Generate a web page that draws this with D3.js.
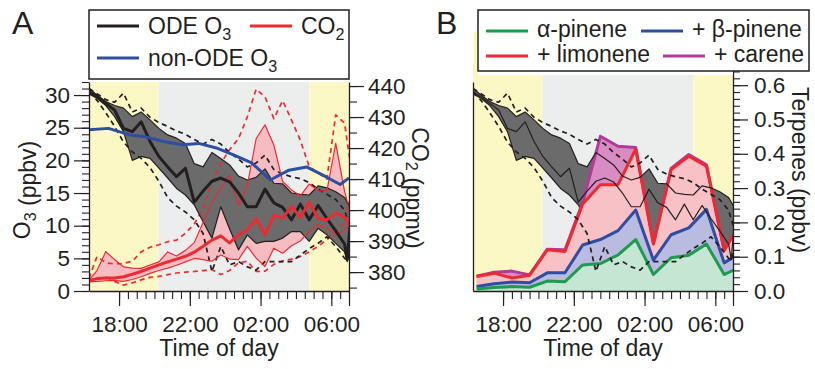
<!DOCTYPE html>
<html>
<head>
<meta charset="utf-8">
<script src="https://cdn.jsdelivr.net/npm/d3@7"></script>
<style>
body { margin: 0; background: white; }
svg text { font-family: "Liberation Sans", Arial, Helvetica, sans-serif; fill: #231f20; }
</style>
</head>
<body>
<div id="container"></div>
<script>
// ---- data (hours since midnight of first day; 24+ = next morning) ----
let o3Time = [16.3,16.75,17.25,17.75,18.25,18.75,19.25,19.75,20.25,20.75,21.25,21.75,22.25,22.75,23.25,23.75,24.25,24.75,25.25,25.75,26.25,26.75,27.25,27.75,28.25,28.75,29.25,29.75,30.25,30.75,30.9,31.15];
let o3Mean = [30.5,29.7,28.7,27.7,24.9,24.4,25.9,22.9,20.6,19.0,17.5,18.8,13.6,15.3,16.8,17.3,16.7,15.0,12.9,12.9,15.6,13.5,12.8,10.9,13.3,10.9,13.1,11.1,9.2,7.2,4.8,13.0];
let o3Upper = [31.0,30.0,29.0,28.4,28.0,26.7,27.4,26.2,24.9,23.9,23.4,22.6,19.5,19.0,21.2,20.3,19.3,17.6,17.0,17.4,18.7,16.5,16.4,15.0,14.8,14.7,16.1,15.8,15.2,14.3,13.6,12.5];
let o3Lower = [30.2,29.5,28.4,26.7,24.4,20.0,20.6,20.3,18.8,17.3,15.7,14.7,13.2,10.6,8.1,12.9,9.5,6.3,8.6,7.3,7.6,7.6,8.1,9.1,9.1,7.6,9.6,8.6,7.3,6.0,4.5,7.0];
let o3Max = [31.0,30.2,29.3,28.9,30.3,27.4,28.0,26.6,25.8,25.2,24.5,24.0,23.2,22.5,23.2,22.5,21.2,20.2,19.0,19.6,20.8,18.6,17.9,17.5,17.2,16.6,15.6,14.8,14.0,12.4,11.0,9.0];
let o3Min = [30.4,29.2,27.3,25.2,22.8,21.3,20.3,18.9,16.8,14.3,13.0,12.1,10.9,8.8,3.0,6.8,4.0,4.5,3.7,3.2,4.5,4.5,4.5,4.5,5.5,6.5,7.3,8.3,6.8,5.0,4.7,7.0];

let co2Mean = [377.3,377.9,378.1,378.1,378.5,379.3,380.2,381.3,382.3,383.3,384.2,385.1,386.4,388.3,390.3,391.7,389.4,392.0,393.6,397.2,392.0,398.4,397.4,401.2,397.6,402.5,397.3,396.9,399.0,397.8,396.5,394.0];
let co2Upper = [377.5,380.5,386.6,384.0,381.7,381.3,381.2,382.3,383.3,386.5,385.2,387.0,389.5,396.0,402.5,407.0,411.3,401.5,408.0,423.0,427.5,421.0,409.2,406.5,404.6,408.4,406.2,406.2,421.5,406.0,402.8,401.0];
let co2Lower = [376.8,377.0,377.2,377.3,377.0,377.6,378.5,379.6,380.5,381.3,382.2,383.3,384.4,384.0,383.5,385.5,384.2,384.0,388.3,384.5,381.8,387.7,386.1,388.5,390.0,393.1,395.3,394.2,392.0,393.5,394.7,394.5];
let co2Max = [378.0,385.0,383.0,382.6,382.8,383.5,386.5,388.0,388.8,389.8,390.3,392.5,395.5,400.5,409.0,415.0,419.5,423.0,430.0,439.0,436.5,429.5,435.3,429.0,422.5,414.0,412.0,410.0,430.7,428.0,422.0,412.0];
let co2Min = [377.0,377.5,378.5,377.0,375.8,376.5,377.5,378.3,378.6,379.2,379.7,380.0,380.2,380.5,380.8,379.2,380.5,383.0,383.5,380.2,380.3,382.5,383.6,384.2,385.0,386.5,388.3,390.5,393.0,396.0,400.0,405.0];

let nonOdeTime = [16.3,17.4,18.6,19.5,20.5,21.6,22.5,23.5,24.5,25.5,26.55,27.6,28.6,29.55,30.5,31.0];
let nonOdeO3 = [24.7,24.9,23.9,23.6,22.9,22.4,22.6,21.9,20.8,19.6,17.0,18.5,19.0,17.7,16.3,17.3];

let terpTime = [16.5,17.5,18.5,19.5,20.5,21.5,22.5,23.5,24.5,25.5,26.5,27.5,28.5,29.5,30.5,31.5];
let alphaPinene = [0.006,0.010,0.013,0.011,0.029,0.027,0.076,0.080,0.105,0.150,0.048,0.097,0.104,0.137,0.048,0.072];
let betaPinene = [0.007,0.011,0.013,0.013,0.024,0.026,0.058,0.070,0.071,0.086,0.042,0.067,0.080,0.101,0.034,0.042];
let limonene = [0.029,0.031,0.012,0.022,0.067,0.062,0.120,0.160,0.134,0.178,0.047,0.190,0.209,0.126,0.036,0.090];
let carene = [0.001,0.003,0.020,0.001,0.002,0.005,0.004,0.141,0.112,0.004,0.002,0.003,0.005,0.004,0.002,0.002];

let sunset = 20.25;
let sunrise = 28.75;
let timeTicks = [18, 22, 26, 30];
let timeLabels = ["18:00", "22:00", "02:00", "06:00"];
let o3Ticks = [0, 5, 10, 15, 20, 25, 30];
let co2Ticks = [380, 390, 400, 410, 420, 430, 440];
let terpTicks = [0, 0.1, 0.2, 0.3, 0.4, 0.5, 0.6];

// ---- setup ----
let w = 815;
let h = 369;

let viz = d3.select("#container")
  .append("svg")
    .attr("width", w)
    .attr("height", h)
    .style("background-color", "white")
;

let yellow = "#fbf8c6";
let night = "#eceeee";
let bandGray = "#6b6b6b";
let ink = "#231f20";
let red = "#ec2a31";
let blue = "#2d4ea2";
let green = "#1c9c4c";
let magenta = "#b23a9b";

let xA = d3.scaleLinear().domain([16.3, 31.0]).range([89, 349]);
let xB = d3.scaleLinear().domain([16.3, 31.0]).range([473, 733]);
let yO3 = d3.scaleLinear().domain([0, 32]).range([291, 82]);
let yCO2 = d3.scaleLinear().domain([373.9, 441.3]).range([291, 82]);
let yTerp = d3.scaleLinear().domain([0, 0.755]).range([291, 32]);

function linePath(x, y, times, vals){
  return d3.line().x((d,i) => x(times[i])).y(d => y(d))(vals);
}
function bandPath(x, y, times, lo, hi){
  return d3.area().x((d,i) => x(times[i])).y0((d,i) => y(lo[i])).y1((d,i) => y(hi[i]))(lo);
}
function addLine(g, d, color, width, dash){
  let p = g.append("path").attr("d", d).attr("fill", "none")
    .attr("stroke", color).attr("stroke-width", width)
    .attr("stroke-linejoin", "round");
  if (dash) p.attr("stroke-dasharray", dash);
  return p;
}

viz.append("clipPath").attr("id", "clipA")
  .append("rect").attr("x", 89).attr("y", 82).attr("width", 260).attr("height", 209);
viz.append("clipPath").attr("id", "clipB")
  .append("rect").attr("x", 473).attr("y", 32).attr("width", 260).attr("height", 259);

function shading(g, x, top){
  let periods = [[x.domain()[0], sunset, yellow], [sunset, sunrise, night], [sunrise, x.domain()[1], yellow]];
  g.selectAll(".bg").data(periods).enter()
    .append("rect")
      .attr("x", d => x(d[0]))
      .attr("width", d => x(d[1]) - x(d[0]))
      .attr("y", top)
      .attr("height", 291 - top)
      .attr("fill", d => d[2]);
}

// ---- panel A ----
let plotA = viz.append("g").attr("clip-path", "url(#clipA)");
shading(plotA, xA, 82);
plotA.append("path").attr("d", bandPath(xA, yCO2, o3Time, co2Lower, co2Upper)).attr("fill", "#f7bcc1");
plotA.append("path").attr("d", bandPath(xA, yO3, o3Time, o3Lower, o3Upper)).attr("fill", bandGray);
addLine(plotA, linePath(xA, yCO2, o3Time, co2Max), red, 1.7, "5,4");
addLine(plotA, linePath(xA, yCO2, o3Time, co2Min), red, 1.7, "5,4");
addLine(plotA, linePath(xA, yO3, o3Time, o3Max), ink, 1.7, "5,4");
addLine(plotA, linePath(xA, yO3, o3Time, o3Min), ink, 1.7, "5,4");
addLine(plotA, linePath(xA, yO3, o3Time, o3Upper), ink, 1.2);
addLine(plotA, linePath(xA, yO3, o3Time, o3Lower), ink, 1.2);
addLine(plotA, linePath(xA, yCO2, o3Time, co2Upper), red, 1.2);
addLine(plotA, linePath(xA, yCO2, o3Time, co2Lower), red, 1.2);
addLine(plotA, linePath(xA, yO3, o3Time, o3Mean), ink, 3);
addLine(plotA, linePath(xA, yCO2, o3Time, co2Mean), red, 3);
addLine(plotA, linePath(xA, yO3, nonOdeTime, nonOdeO3), blue, 3);

// ---- panel B ----
let plotB = viz.append("g").attr("clip-path", "url(#clipB)");
shading(plotB, xB, 32);
plotB.append("path").attr("d", bandPath(xB, yO3, o3Time, o3Lower, o3Upper)).attr("fill", bandGray);
addLine(plotB, linePath(xB, yO3, o3Time, o3Lower), ink, 1.2);

let terpRows = terpTime.map((t, i) => ({
  t: t, alpha: alphaPinene[i], beta: betaPinene[i], limonene: limonene[i], carene: carene[i]
}));
let terpKeys = ["alpha", "beta", "limonene", "carene"];
let terpFill = {alpha: "#c5e6d3", beta: "#babbe1", limonene: "#f8c1c5", carene: "#d98cc2"};
let terpLine = {alpha: green, beta: blue, limonene: red, carene: magenta};
let stacked = d3.stack().keys(terpKeys)(terpRows);

let terpArea = d3.area()
  .x(d => xB(d.data.t))
  .y0(d => yTerp(d[0]))
  .y1(d => yTerp(d[1]));
let terpTop = d3.line()
  .x(d => xB(d.data.t))
  .y(d => yTerp(d[1]));

plotB.selectAll(".terpArea").data(stacked).enter()
  .append("path")
    .attr("d", terpArea)
    .attr("fill", d => terpFill[d.key]);

// carene line first so limonene sits on top of it
let lineOrder = stacked.slice().reverse();
plotB.selectAll(".terpLine").data(lineOrder).enter()
  .append("path")
    .attr("d", terpTop)
    .attr("fill", "none")
    .attr("stroke", d => terpLine[d.key])
    .attr("stroke-width", 3)
    .attr("stroke-linejoin", "round");

addLine(plotB, linePath(xB, yO3, o3Time, o3Max), ink, 1.7, "5,4");
addLine(plotB, linePath(xB, yO3, o3Time, o3Min), ink, 1.7, "5,4");
addLine(plotB, linePath(xB, yO3, o3Time, o3Upper), ink, 1.2);
addLine(plotB, linePath(xB, yO3, o3Time, o3Mean), ink, 1.2);

// ---- axes ----
function styleAxis(g, fontSize){
  g.selectAll("path.domain").attr("stroke", ink).attr("stroke-width", 1.3);
  g.selectAll("line").attr("stroke", ink).attr("stroke-width", 1.2);
  g.selectAll("text").style("font-size", fontSize + "px").attr("fill", ink)
    .style("font-family", '"Liberation Sans", Arial, sans-serif');
}
function minorAxis(g, axis){
  g.call(axis);
  g.select(".domain").remove();
  g.selectAll("line").attr("stroke", ink).attr("stroke-width", 1.1);
}

function timeAxis(x){
  let minor = viz.append("g").attr("transform", "translate(0,291)");
  minorAxis(minor, d3.axisBottom(x).tickValues(d3.range(18, 31.01, 0.5)).tickSize(8).tickFormat(""));
  let major = viz.append("g").attr("transform", "translate(0,291)")
    .call(d3.axisBottom(x).tickValues(timeTicks.concat([31])).tickSize(15).tickSizeOuter(0).tickPadding(10)
      .tickFormat(d => { let k = timeTicks.indexOf(d); return k >= 0 ? timeLabels[k] : ""; }));
  styleAxis(major, 22.5);
}
timeAxis(xA);
timeAxis(xB);

// O3 axis (A)
minorAxis(viz.append("g").attr("transform", "translate(89,0)"),
  d3.axisLeft(yO3).tickValues(d3.range(0, 32.5, 1)).tickSize(7).tickFormat(""));
let o3Axis = viz.append("g").attr("transform", "translate(89,0)")
  .call(d3.axisLeft(yO3).tickValues(o3Ticks).tickSize(15).tickSizeOuter(0).tickPadding(4));
styleAxis(o3Axis, 22.5);

// CO2 axis (A)
minorAxis(viz.append("g").attr("transform", "translate(349,0)"),
  d3.axisRight(yCO2).tickValues(d3.range(375, 441, 5)).tickSize(8).tickFormat(""));
let co2Axis = viz.append("g").attr("transform", "translate(349,0)")
  .call(d3.axisRight(yCO2).tickValues(co2Ticks).tickSize(15).tickSizeOuter(0).tickPadding(4));
styleAxis(co2Axis, 22.5);

// hidden O3 axis line (B)
let o3AxisB = viz.append("g").attr("transform", "translate(473,0)")
  .call(d3.axisLeft(yO3).tickValues([]).tickSizeOuter(0));
styleAxis(o3AxisB, 22.5);

// terpene axis (B)
minorAxis(viz.append("g").attr("transform", "translate(733,0)"),
  d3.axisRight(yTerp).tickValues(d3.range(0, 0.75, 0.02)).tickSize(7).tickFormat(""));
let terpAxis = viz.append("g").attr("transform", "translate(733,0)")
  .call(d3.axisRight(yTerp).tickValues(terpTicks).tickSize(15).tickSizeOuter(0).tickPadding(6)
    .tickFormat(d3.format(".1f")));
styleAxis(terpAxis, 22.5);

// ---- titles ----
function label(x, y, angle, parts, size){
  let t = viz.append("text")
    .attr("transform", "translate(" + x + "," + y + ") rotate(" + angle + ")")
    .attr("text-anchor", angle == 0 ? "start" : "middle")
    .attr("y", angle == 0 ? 0 : 8)
    .style("font-size", size + "px");
  parts.forEach(p => {
    if (p.sub) {
      t.append("tspan").attr("dy", 6).style("font-size", (size * 0.7) + "px").text(p.sub);
      t.append("tspan").attr("dy", -6).text("");
    } else {
      t.append("tspan").text(p.text);
    }
  });
  return t;
}

label(22, 190, -90, [{text: "O"}, {sub: "3"}, {text: " (ppbv)"}], 23);
label(420, 188, 90, [{text: "CO"}, {sub: "2"}, {text: " (ppmv)"}], 23);
label(800, 170, 90, [{text: "Terpenes (ppbv)"}], 23);

viz.append("text").attr("x", 219).attr("y", 356).attr("text-anchor", "middle")
  .style("font-size", "23px").text("Time of day");
viz.append("text").attr("x", 603).attr("y", 356).attr("text-anchor", "middle")
  .style("font-size", "23px").text("Time of day");

viz.append("text").attr("x", 12).attr("y", 34).style("font-size", "32px").text("A");
viz.append("text").attr("x", 436).attr("y", 34).style("font-size", "32px").text("B");

// ---- legends ----
let legA = viz.append("g");
legA.append("rect").attr("x", 89).attr("y", 10).attr("width", 260).attr("height", 69)
  .attr("fill", "white").attr("stroke", ink).attr("stroke-width", 1.5);
let legAItems = [
  {x: 97, y: 26, color: ink, parts: [{text: "ODE O"}, {sub: "3"}]},
  {x: 250, y: 26, color: red, parts: [{text: "CO"}, {sub: "2"}]},
  {x: 97, y: 58, color: blue, parts: [{text: "non-ODE O"}, {sub: "3"}]}
];
legAItems.forEach(d => {
  legA.append("line").attr("x1", d.x).attr("x2", d.x + 42).attr("y1", d.y).attr("y2", d.y)
    .attr("stroke", d.color).attr("stroke-width", 3);
  label(d.x + 51, d.y + 8, 0, d.parts, 23);
});

let legB = viz.append("g");
legB.append("rect").attr("x", 478).attr("y", 71).attr("width", 255).attr("height", 4).attr("fill", "white");
legB.append("rect").attr("x", 478).attr("y", 10).attr("width", 331).attr("height", 61)
  .attr("fill", "white").attr("stroke", ink).attr("stroke-width", 1.5);
let legBItems = [
  {x: 486, y: 31, color: green, text: "\u03b1-pinene"},
  {x: 641, y: 31, color: blue, text: "+ \u03b2-pinene"},
  {x: 486, y: 56, color: red, text: "+ limonene"},
  {x: 663, y: 56, color: magenta, text: "+ carene"}
];
legBItems.forEach(d => {
  legB.append("line").attr("x1", d.x).attr("x2", d.x + 42).attr("y1", d.y).attr("y2", d.y)
    .attr("stroke", d.color).attr("stroke-width", 3);
  legB.append("text").attr("x", d.x + 51).attr("y", d.y + 6).style("font-size", "23px").text(d.text);
});
</script>
</body>
</html>
